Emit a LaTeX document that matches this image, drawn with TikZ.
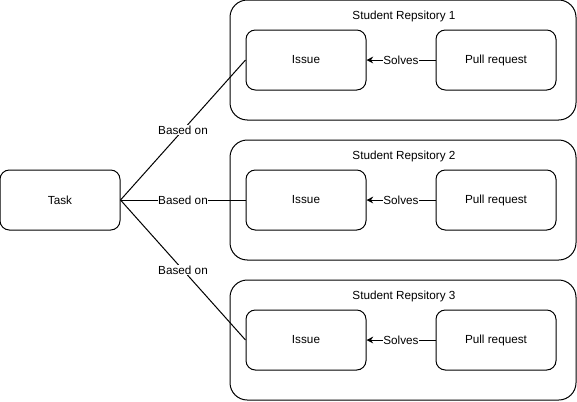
\documentclass[tikz,border=0pt]{standalone}
\usepackage{fontspec}
\setmainfont{Liberation Sans}
\usetikzlibrary{arrows.meta}
\begin{document}
\begin{tikzpicture}[x=0.75pt,y=-0.75pt,
  every node/.style={font=\fontsize{8.8pt}{10.5pt}\selectfont, inner sep=0pt},
  box/.style={draw, line width=0.75pt, rounded corners=7pt, minimum width=90pt, minimum height=45pt},
  repo/.style={draw, line width=0.75pt, rounded corners=13pt, minimum width=259.5pt, minimum height=90pt},
  conn/.style={line width=0.75pt},
  lbl/.style={fill=white, inner sep=0.3pt},
  arr/.style={conn, -{Stealth[length=5pt,width=5pt]}}]
\useasboundingbox (0,0) rectangle (577,401);
\node[box] (task) at (60,200) {Task};
\foreach \i/\y in {1/60, 2/200, 3/340} {
  \node[repo] (repo\i) at (403,\y) {};
  \node at (404,\y-44) {Student Repsitory \i};
  \node[box] (issue\i) at (306,\y) {Issue};
  \node[box] (pr\i) at (496,\y) {Pull request};
  \draw[arr] (pr\i.west) -- node[lbl] {Solves} (issue\i.east);
  \draw[conn] (task.east) -- node[lbl] {Based on} (issue\i.west);
}
\end{tikzpicture}
\end{document}
